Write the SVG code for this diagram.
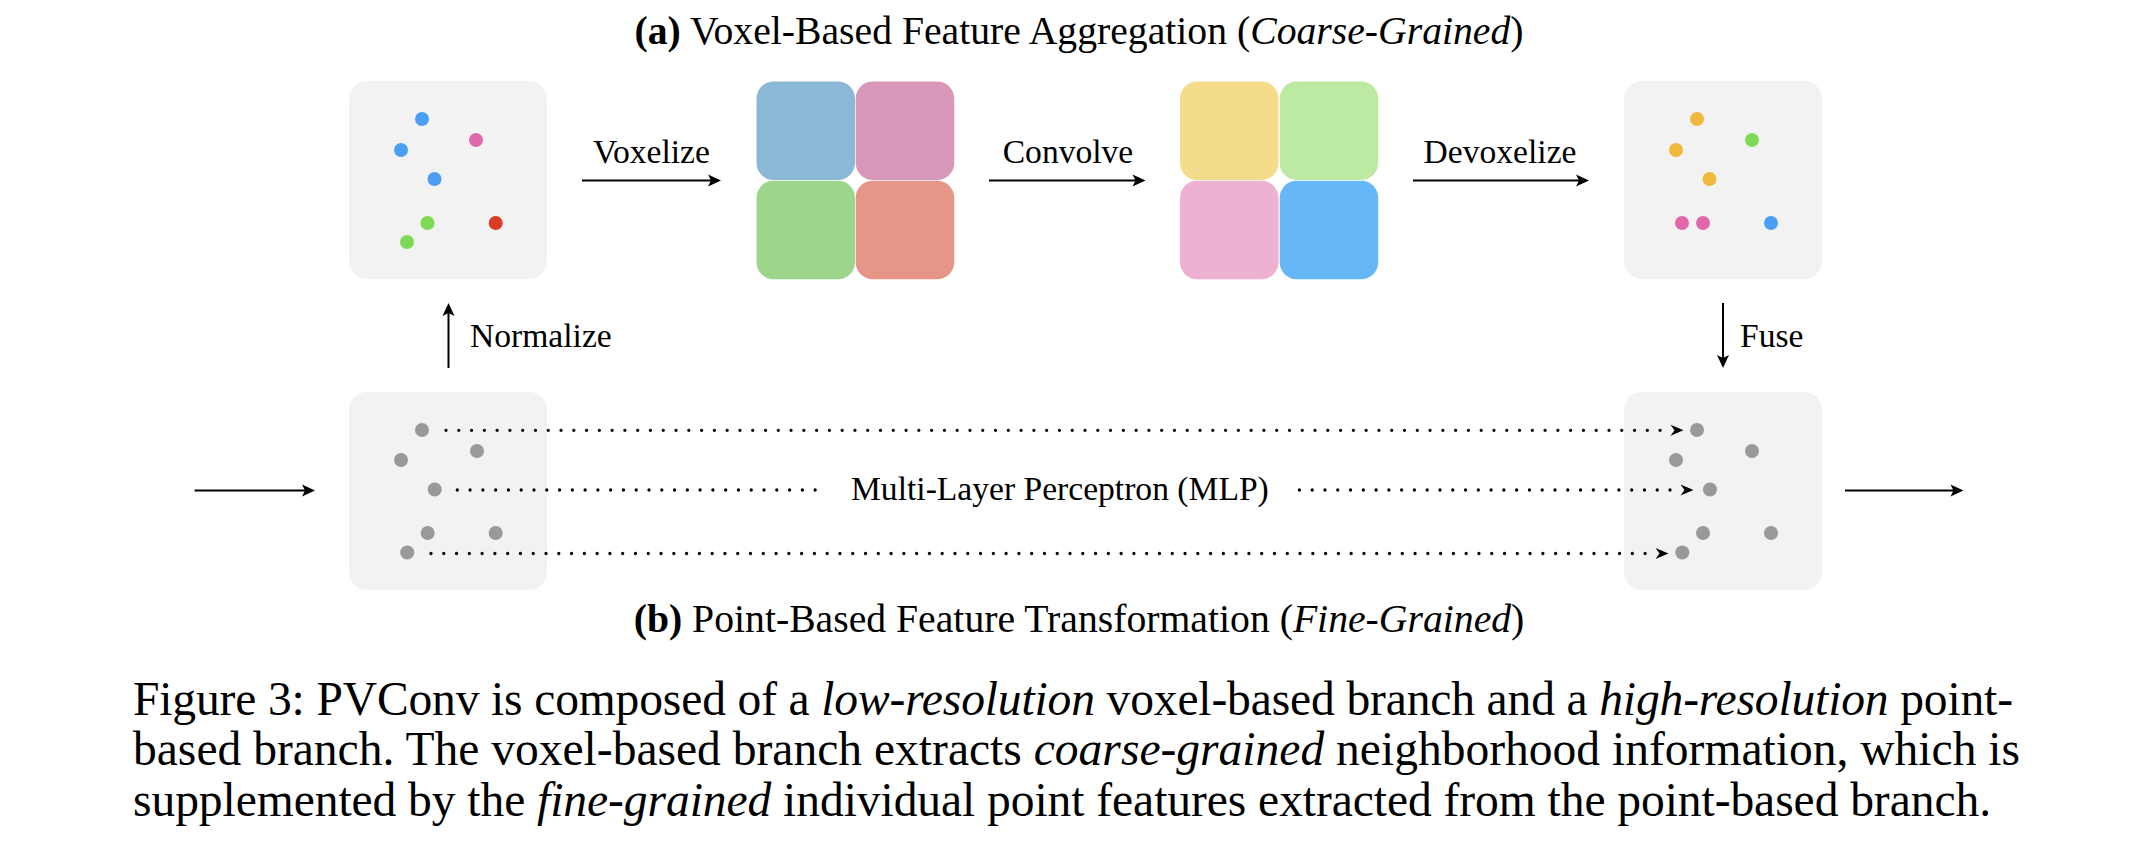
<svg xmlns="http://www.w3.org/2000/svg" width="2156" height="842" viewBox="0 0 2156 842">
<style>
text { font-family: "Liberation Serif", "Times New Roman", serif; fill: #000; }
.title { font-size: 39.7px; }
.lbl { font-size: 33.6px; }
.cap { font-size: 47.5px; }
.box { fill: #f2f2f2; }
.arr { fill: none; stroke: #000; stroke-width: 2; marker-end: url(#ah); }
.dot { fill: none; stroke: #000; stroke-width: 3.3; stroke-linecap: round; stroke-dasharray: 0 12.78; }
.dotarr { marker-end: url(#dh); }
.g { fill: #999999; }
.blue { fill: #4a9ff5; }
.pink { fill: #e068a8; }
.red { fill: #dc3b26; }
.green { fill: #7ed957; }
.orange { fill: #f0b93b; }
</style>
<defs>
<marker id="ah" markerUnits="userSpaceOnUse" markerWidth="1" markerHeight="1" refX="0" refY="0" orient="auto" overflow="visible">
<path d="M6,0 L-7,-6 L-4,0 L-7,6 Z" fill="#000"/>
</marker>
<marker id="dh" markerUnits="userSpaceOnUse" markerWidth="1" markerHeight="1" refX="0" refY="0" orient="auto" overflow="visible">
<path d="M23,0 L10,-5.5 L14,0 L10,5.5 Z" fill="#000"/>
</marker>
</defs>

<text class="title" x="1079" y="44" text-anchor="middle"><tspan font-weight="bold">(a)</tspan> Voxel-Based Feature Aggregation (<tspan font-style="italic">Coarse-Grained</tspan>)</text>
<text class="title" x="1079" y="632" text-anchor="middle"><tspan font-weight="bold">(b)</tspan> Point-Based Feature Transformation (<tspan font-style="italic">Fine-Grained</tspan>)</text>

<g id="points-in">
<rect class="box" x="349" y="81" width="198" height="198" rx="18"/>
<circle class="blue" cx="422" cy="119" r="7"/>
<circle class="pink" cx="476" cy="140" r="7"/>
<circle class="blue" cx="401" cy="150" r="7"/>
<circle class="blue" cx="434.5" cy="179" r="7"/>
<circle class="green" cx="427.5" cy="223" r="7"/>
<circle class="red" cx="495.7" cy="223" r="7"/>
<circle class="green" cx="407" cy="242" r="7"/>
</g>

<g id="voxels-in">
<rect x="756.5" y="81.5" width="98.5" height="98.5" rx="17" fill="#8cb8d7"/>
<rect x="855.7" y="81.5" width="98.5" height="98.5" rx="17" fill="#d997ba"/>
<rect x="756.5" y="180.7" width="98.5" height="98.5" rx="17" fill="#9dd68a"/>
<rect x="855.7" y="180.7" width="98.5" height="98.5" rx="17" fill="#e69688"/>
</g>

<g id="voxels-out">
<rect x="1180" y="81.5" width="98.5" height="98.5" rx="17" fill="#f5dc8c"/>
<rect x="1279.7" y="81.5" width="98.5" height="98.5" rx="17" fill="#bdeaa2"/>
<rect x="1180" y="180.7" width="98.5" height="98.5" rx="17" fill="#edb1d1"/>
<rect x="1279.7" y="180.7" width="98.5" height="98.5" rx="17" fill="#66b7f7"/>
</g>

<g id="points-devox">
<rect class="box" x="1624" y="81" width="198" height="198" rx="18"/>
<circle class="orange" cx="1697" cy="119" r="7"/>
<circle class="green" cx="1752" cy="140" r="7"/>
<circle class="orange" cx="1676" cy="150" r="7"/>
<circle class="orange" cx="1709.5" cy="179" r="7"/>
<circle class="pink" cx="1682" cy="223" r="7"/>
<circle class="pink" cx="1703" cy="223" r="7"/>
<circle class="blue" cx="1771" cy="223" r="7"/>
</g>

<g id="points-base">
<rect class="box" x="349" y="392" width="198" height="198" rx="18"/>
<circle class="g" cx="422" cy="430" r="7"/>
<circle class="g" cx="477" cy="451" r="7"/>
<circle class="g" cx="401" cy="460" r="7"/>
<circle class="g" cx="434.7" cy="489.5" r="7"/>
<circle class="g" cx="427.7" cy="533" r="7"/>
<circle class="g" cx="495.7" cy="533" r="7"/>
<circle class="g" cx="407.2" cy="552.5" r="7"/>
</g>

<g id="points-out">
<rect class="box" x="1624" y="392" width="198" height="198" rx="18"/>
<circle class="g" cx="1697" cy="430" r="7"/>
<circle class="g" cx="1752" cy="451" r="7"/>
<circle class="g" cx="1676" cy="460" r="7"/>
<circle class="g" cx="1710" cy="489.5" r="7"/>
<circle class="g" cx="1703" cy="533" r="7"/>
<circle class="g" cx="1771" cy="533" r="7"/>
<circle class="g" cx="1682.3" cy="552.5" r="7"/>
</g>

<g id="connectors">
<path class="arr" d="M582,180.5 H715"/>
<path class="arr" d="M989,180.5 H1139.5"/>
<path class="arr" d="M1413,180.5 H1583"/>
<path class="arr" d="M448.5,368 V309"/>
<path class="arr" d="M1723,303 V362"/>
<path class="arr" d="M194.6,490.5 H309"/>
<path class="arr" d="M1845,490.5 H1957.5"/>
<path class="dot dotarr" d="M446,430.3 H1660.5"/>
<path class="dot" d="M457.3,490 H815.5"/>
<path class="dot dotarr" d="M1299.4,490 H1670.5"/>
<path class="dot dotarr" d="M431,553.5 H1645.5"/>
</g>

<g id="labels">
<text class="lbl" x="651.5" y="163" text-anchor="middle">Voxelize</text>
<text class="lbl" x="1068" y="163" text-anchor="middle">Convolve</text>
<text class="lbl" x="1500" y="163" text-anchor="middle">Devoxelize</text>
<text class="lbl" x="470" y="347">Normalize</text>
<text class="lbl" x="1740" y="347">Fuse</text>
<text class="lbl" x="851" y="500">Multi-Layer Perceptron (MLP)</text>
</g>

<g id="caption">
<text class="cap" x="133" y="715" textLength="1880" lengthAdjust="spacing">Figure 3: PVConv is composed of a <tspan font-style="italic">low-resolution</tspan> voxel-based branch and a <tspan font-style="italic">high-resolution</tspan> point-</text>
<text class="cap" x="133" y="765" textLength="1887" lengthAdjust="spacing">based branch. The voxel-based branch extracts <tspan font-style="italic">coarse-grained</tspan> neighborhood information, which is</text>
<text class="cap" x="133" y="816" textLength="1858" lengthAdjust="spacing">supplemented by the <tspan font-style="italic">fine-grained</tspan> individual point features extracted from the point-based branch.</text>
</g>
</svg>
